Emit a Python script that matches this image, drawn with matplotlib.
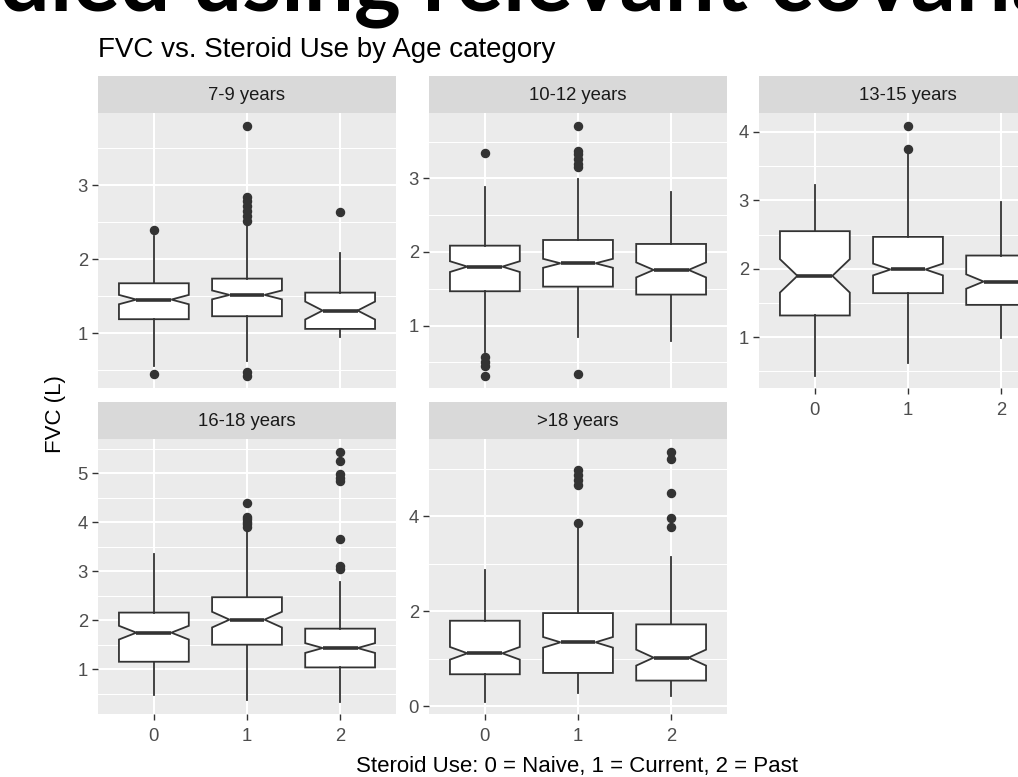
import matplotlib
matplotlib.use("Agg")
import matplotlib.pyplot as plt
from matplotlib.ticker import MultipleLocator

plt.rcParams["font.family"] = ["Liberation Sans", "DejaVu Sans"]

age_groups = ["7-9 years", "10-12 years", "13-15 years", "16-18 years", ">18 years"]
steroid_use = ["0", "1", "2"]

# box statistics, one row per age group, one value per steroid category
whisker_low = [
    [0.555, 0.631, 0.946],
    [0.647, 0.842, 0.796],
    [0.440, 0.625, 0.990],
    [0.474, 0.372, 0.338],
    [0.105, 0.280, 0.224],
]
q1 = [
    [1.189, 1.229, 1.058],
    [1.466, 1.529, 1.421],
    [1.317, 1.643, 1.472],
    [1.150, 1.498, 1.034],
    [0.678, 0.706, 0.545],
]
median = [
    [1.454, 1.517, 1.306],
    [1.801, 1.846, 1.756],
    [1.896, 1.989, 1.813],
    [1.744, 2.010, 1.430],
    [1.119, 1.350, 1.028],
]
q3 = [
    [1.674, 1.737, 1.548],
    [2.086, 2.163, 2.109],
    [2.549, 2.466, 2.193],
    [2.154, 2.468, 1.826],
    [1.804, 1.965, 1.727],
]
whisker_high = [
    [2.317, 2.497, 2.079],
    [2.878, 2.991, 2.810],
    [3.221, 3.700, 2.973],
    [3.341, 3.853, 2.775],
    [2.881, 3.776, 3.147],
]
# half height of the notch around the median
notch_half = [
    [0.063, 0.060, 0.121],
    [0.073, 0.061, 0.102],
    [0.244, 0.086, 0.105],
    [0.140, 0.160, 0.100],
    [0.133, 0.112, 0.168],
]
outliers = [
    [[2.389, 0.447], [3.804, 2.834, 2.789, 2.721, 2.654, 2.587, 2.519, 0.474, 0.429], [2.640]],
    [[3.339, 0.570, 0.511, 0.448, 0.321], [3.719, 3.376, 3.330, 3.262, 3.195, 3.149, 0.339], []],
    [[], [4.093, 3.747], []],
    [[], [4.399, 4.113, 4.058, 4.003, 3.956, 3.908], [5.444, 5.253, 4.980, 4.911, 4.843, 3.648, 3.102, 3.034]],
    [[], [4.965, 4.860, 4.755, 4.650, 3.860], [5.364, 5.210, 4.490, 3.972, 3.776]],
]
major_step = [1, 1, 1, 1, 2]

W, H = 1018, 777
fig = plt.figure(figsize=(W / 100, H / 100), dpi=100)

# panel boxes in pixels: left, top, width, height
col_left = [98, 429, 759]
row_top = [113, 439]
panel_w, panel_h, strip_h = 298, 275, 37

dark = "#333333"
for i, group in enumerate(age_groups):
    row, col = divmod(i, 3)
    left, top = col_left[col], row_top[row]
    ax = fig.add_axes([left / W, 1 - (top + panel_h) / H, panel_w / W, panel_h / H])
    strip = fig.add_axes([left / W, 1 - top / H, panel_w / W, strip_h / H])
    strip.set_facecolor("#D9D9D9")
    strip.set_xticks([])
    strip.set_yticks([])
    for s in strip.spines.values():
        s.set_visible(False)
    strip.text(0.5, 0.46, group, ha="center", va="center", fontsize=13.3, color="#1A1A1A",
               transform=strip.transAxes)

    stats = []
    for j in range(3):
        stats.append({
            "whislo": whisker_low[i][j],
            "q1": q1[i][j],
            "med": median[i][j],
            "q3": q3[i][j],
            "whishi": whisker_high[i][j],
            "cilo": median[i][j] - notch_half[i][j],
            "cihi": median[i][j] + notch_half[i][j],
            "fliers": outliers[i][j],
        })
    ax.bxp(stats, positions=[0, 1, 2], widths=0.75, shownotches=True, showcaps=False,
           patch_artist=True,
           boxprops=dict(facecolor="white", edgecolor=dark, linewidth=1.3),
           medianprops=dict(color=dark, linewidth=2.6, solid_capstyle="butt"),
           whiskerprops=dict(color=dark, linewidth=1.3),
           flierprops=dict(marker="o", markerfacecolor=dark, markeredgecolor=dark, markersize=5.8),
           zorder=3)

    lo = min(whisker_low[i] + sum(outliers[i], []))
    hi = max(whisker_high[i] + sum(outliers[i], []))
    pad = (hi - lo) * 0.05
    ax.set_ylim(lo - pad, hi + pad)
    ax.set_xlim(-0.6, 2.6)

    ax.set_facecolor("#EBEBEB")
    for s in ax.spines.values():
        s.set_visible(False)
    ax.yaxis.set_major_locator(MultipleLocator(major_step[i]))
    ax.yaxis.set_minor_locator(MultipleLocator(major_step[i] / 2))
    ax.grid(which="major", color="white", linewidth=1.5, zorder=0)
    ax.grid(which="minor", axis="y", color="white", linewidth=0.75, zorder=0)
    ax.set_axisbelow(True)
    ax.tick_params(axis="y", which="minor", length=0)
    ax.tick_params(which="major", length=4.2, width=1.0, color=dark, labelcolor="#4D4D4D",
                   labelsize=13.3, pad=3)
    ax.tick_params(axis="x", pad=6)
    ax.set_xticks([0, 1, 2])
    if row == 1 or col == 2:
        ax.set_xticklabels(steroid_use)
    else:
        ax.tick_params(axis="x", length=0, labelbottom=False)

fig.text(98 / W, 1 - 57 / H, "FVC vs. Steroid Use by Age category", fontsize=20,
         color="black", ha="left", va="baseline")
fig.text(56 / W, 1 - 414 / H, "FVC (L)", fontsize=16, color="black", rotation=90,
         ha="center", va="center")
fig.text(577.5 / W, 1 - 772 / H, "Steroid Use: 0 = Naive, 1 = Current, 2 = Past", fontsize=16,
         color="black", ha="center", va="baseline")

# slide heading above the chart, mostly cut off by the top edge;
# sized so that "relevant " spans from x=423 to x=780
heading = "studied using relevant covariates"
renderer = fig.canvas.get_renderer()


def text_width(s, size):
    t = fig.text(0, 0, s, fontsize=size, fontweight="bold", family="Lato")
    w = t.get_window_extent(renderer).width
    t.remove()
    return w


size = 60.0
span = text_width("studied using relevant c", size) - text_width("studied using r", size)
size = size * (780 - 423) / span
x0 = 423 - (text_width("studied using r", size) - text_width("r", size))
fig.text(x0 / W, 1 - 10 / H, heading, fontsize=size, fontweight="bold", family="Lato",
         color="black", ha="left", va="baseline")

fig.savefig("out.png", dpi=100)
